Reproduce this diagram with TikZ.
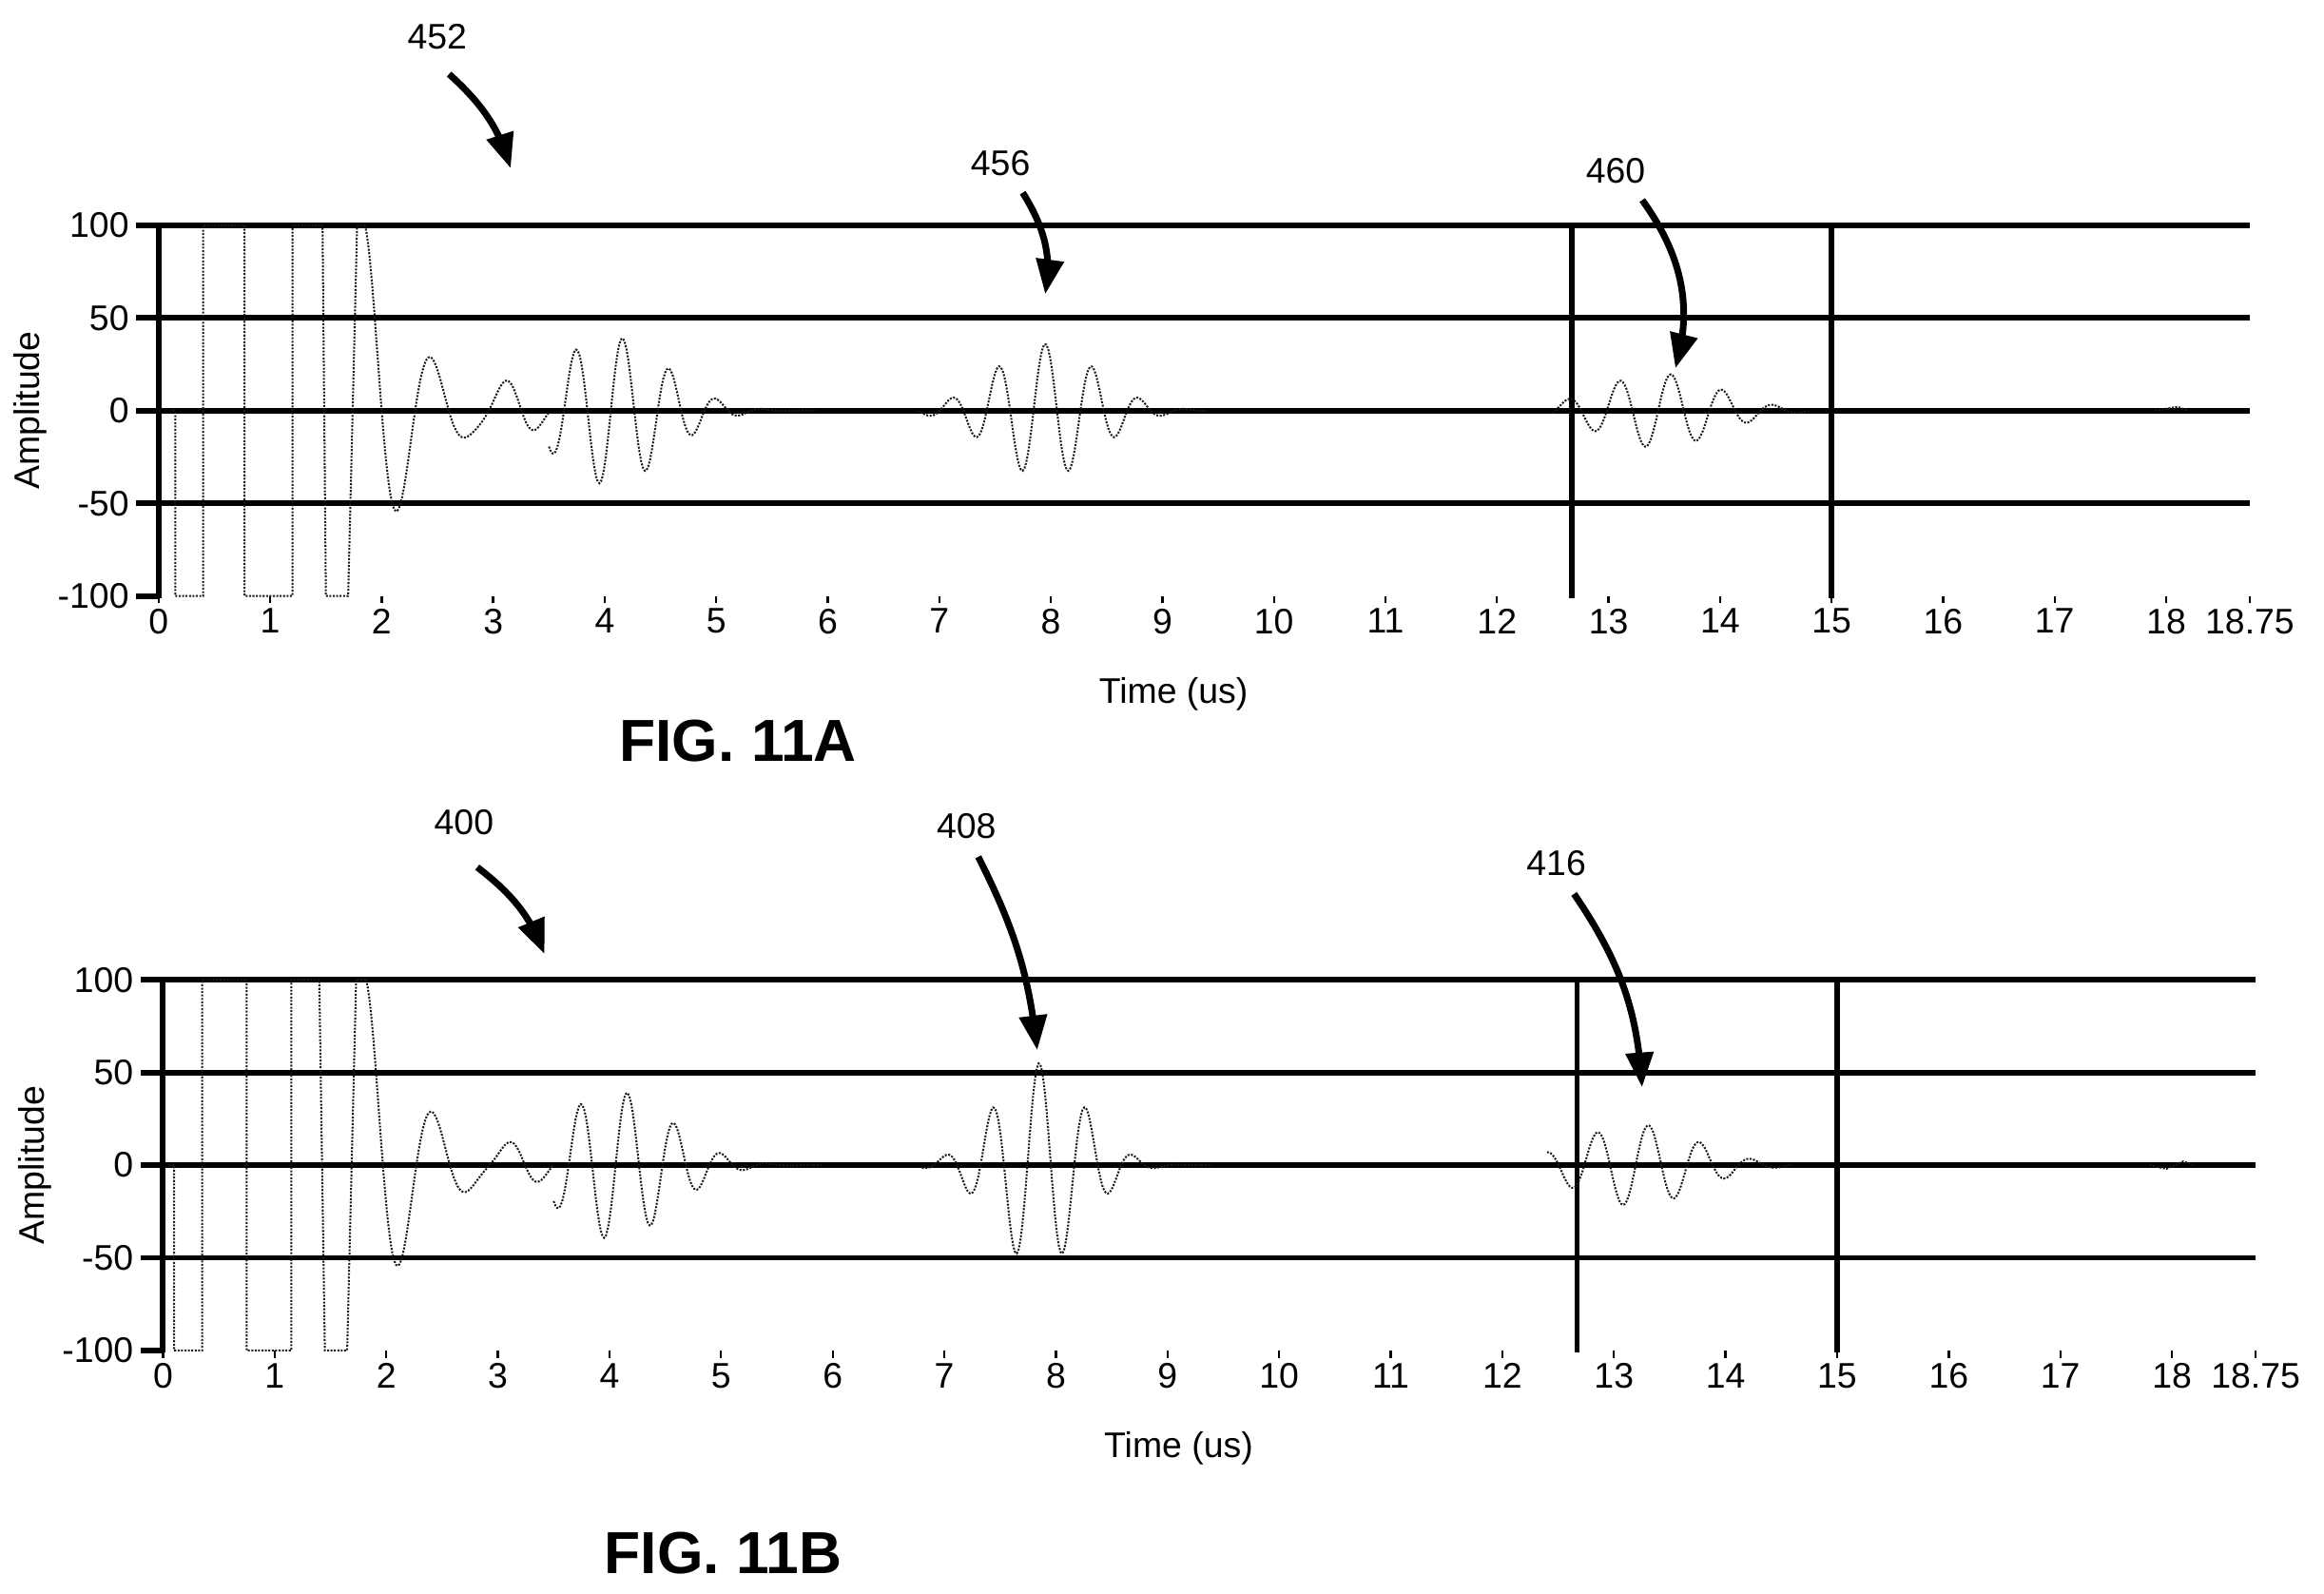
\documentclass[tikz,border=0pt]{standalone}
\usepackage{fontspec}
\setmainfont{Liberation Sans}
\usetikzlibrary{arrows}

\tikzset{
  grid line/.style={line width=3.8pt, black},
  sig/.style={densely dotted, line width=1.3pt, black!90},
  callout/.style={line width=4.5pt, -triangle 45, shorten >=2pt},
  num/.style={font=\fontsize{24}{28}\selectfont, inner sep=1pt},
  figlabel/.style={font=\fontsize{40}{46}\selectfont\bfseries}
}

\begin{document}
\begin{tikzpicture}[x=1pt,y=1pt]
\useasboundingbox (0,0) rectangle (1568,1075);

% ---------- FIG. 11A ----------
\begin{scope}[shift={(107,798)}, x=75.25pt, y=1.25pt]
  %grid lines and axes
  \foreach \a in {100,50,0,-50} \draw[grid line] (-0.2,\a) -- (18.75,\a);
  \draw[grid line] (-0.2,-100) -- (0,-100);
  \draw[grid line] (0,-101) -- (0,101);
  \draw[grid line] (12.67,-101) -- (12.67,100);
  \draw[grid line] (15,-101) -- (15,100);
  \foreach \a in {100,50,0,-50,-100} \node[num, anchor=east] at (-0.25,\a) {\a};
  \foreach \t in {0,...,18} {
    \draw[line width=1.5pt] (\t,-100) -- (\t,-104);
    \node[num, anchor=north] at (\t,-106) {\t};
  }
  \draw[line width=1.5pt] (18.75,-100) -- (18.75,-104);
  \node[num, anchor=north] at (18.75,-106) {18.75};
  \node[num] (timeA) at (9.1,-153) {Time (us)};
  \node[num, rotate=90] (ampA) at (-1.15,0) {Amplitude};
  %signal
  \draw[sig] (0.1,0) -- (0.15,0) -- (0.15,-100) -- (0.4,-100) -- (0.4,100) -- (0.77,100)
    -- (0.77,-100) -- (1.2,-100) -- (1.2,100) -- (1.47,100) -- (1.5,-100) -- (1.7,-100)
    -- (1.78,100) -- (1.85,100);
  \draw[sig] plot[domain=1.85:3.5, samples=120] (\x,{100*exp(-2.1*(\x-1.85))*cos(deg(2*pi*(\x-1.85)/0.6))+12*exp(-((\x-3.15)/0.3)^2)*cos(deg(2*pi*(\x-3.15)/0.5))});
  \draw[sig] plot[domain=3.5:5.9, samples=160] (\x,{-40*exp(-((\x-4.05)/0.7)^2)*cos(deg(2*pi*(\x-3.95)/0.42))});
  \draw[sig] plot[domain=6.8:9.4, samples=160] (\x,{36*exp(-((\x-7.95)/0.65)^2)*cos(deg(2*pi*(\x-7.95)/0.42))});
  \draw[sig] plot[domain=12.5:14.8, samples=140] (\x,{20*exp(-((\x-13.45)/0.75)^2)*cos(deg(2*pi*(\x-13.1)/0.46))});
  \draw[sig] (17.9,0) -- (18.1,2) -- (18.2,0);
\end{scope}
\node[num] (l452) at (295,1050) {452};
\node[num] (l456) at (675,965) {456};
\node[num] (l460) at (1090,960) {460};
\coordinate (t452) at (345,960);
\coordinate (t456) at (705,875);
\coordinate (t460) at (1130,825);
\draw[callout] (303,1025) to[bend left=15] (t452);
\draw[callout] (690,945) to[bend left=20] (t456);
\draw[callout] (1108,940) to[bend left=25] (t460);
\node[figlabel] (figA) at (498,575) {FIG. 11A};

% ---------- FIG. 11B ----------
\begin{scope}[shift={(110,289)}, x=75.3pt, y=1.25pt]
  %grid lines and axes
  \foreach \a in {100,50,0,-50} \draw[grid line] (-0.2,\a) -- (18.75,\a);
  \draw[grid line] (-0.2,-100) -- (0,-100);
  \draw[grid line] (0,-101) -- (0,101);
  \draw[grid line] (12.67,-101) -- (12.67,100);
  \draw[grid line] (15,-101) -- (15,100);
  \foreach \a in {100,50,0,-50,-100} \node[num, anchor=east] at (-0.25,\a) {\a};
  \foreach \t in {0,...,18} {
    \draw[line width=1.5pt] (\t,-100) -- (\t,-104);
    \node[num, anchor=north] at (\t,-106) {\t};
  }
  \draw[line width=1.5pt] (18.75,-100) -- (18.75,-104);
  \node[num, anchor=north] at (18.75,-106) {18.75};
  \node[num] (timeB) at (9.1,-153) {Time (us)};
  \node[num, rotate=90] (ampB) at (-1.15,0) {Amplitude};
  %signal
  \draw[sig] (0.05,0) -- (0.1,0) -- (0.1,-100) -- (0.35,-100) -- (0.35,100) -- (0.75,100)
    -- (0.75,-100) -- (1.15,-100) -- (1.15,100) -- (1.4,100) -- (1.45,-100) -- (1.65,-100)
    -- (1.73,100) -- (1.82,100);
  \draw[sig] plot[domain=1.82:3.5, samples=120] (\x,{100*exp(-2.1*(\x-1.82))*cos(deg(2*pi*(\x-1.82)/0.6))+10*exp(-((\x-3.15)/0.3)^2)*cos(deg(2*pi*(\x-3.15)/0.5))});
  \draw[sig] plot[domain=3.5:5.9, samples=160] (\x,{-40*exp(-((\x-4.05)/0.7)^2)*cos(deg(2*pi*(\x-3.95)/0.42))});
  \draw[sig] plot[domain=6.8:9.4, samples=160] (\x,{55*exp(-((\x-7.85)/0.55)^2)*cos(deg(2*pi*(\x-7.85)/0.42))});
  \draw[sig] plot[domain=12.4:14.6, samples=140] (\x,{22*exp(-((\x-13.2)/0.75)^2)*cos(deg(2*pi*(\x-12.85)/0.46))});
  \draw[sig] (17.8,0) -- (17.95,-2) -- (18.1,2) -- (18.2,0);
\end{scope}
\node[num] (l400) at (313,520) {400};
\node[num] (l408) at (652,518) {408};
\node[num] (l416) at (1050,493) {416};
\coordinate (t400) at (368,430);
\coordinate (t408) at (700,365);
\coordinate (t416) at (1108,340);
\draw[callout] (322,490) to[bend left=15] (t400);
\draw[callout] (660,497) to[bend left=10] (t408);
\draw[callout] (1062,472) to[bend left=15] (t416);
\node[figlabel] (figB) at (488,27) {FIG. 11B};
\end{tikzpicture}
\end{document}
